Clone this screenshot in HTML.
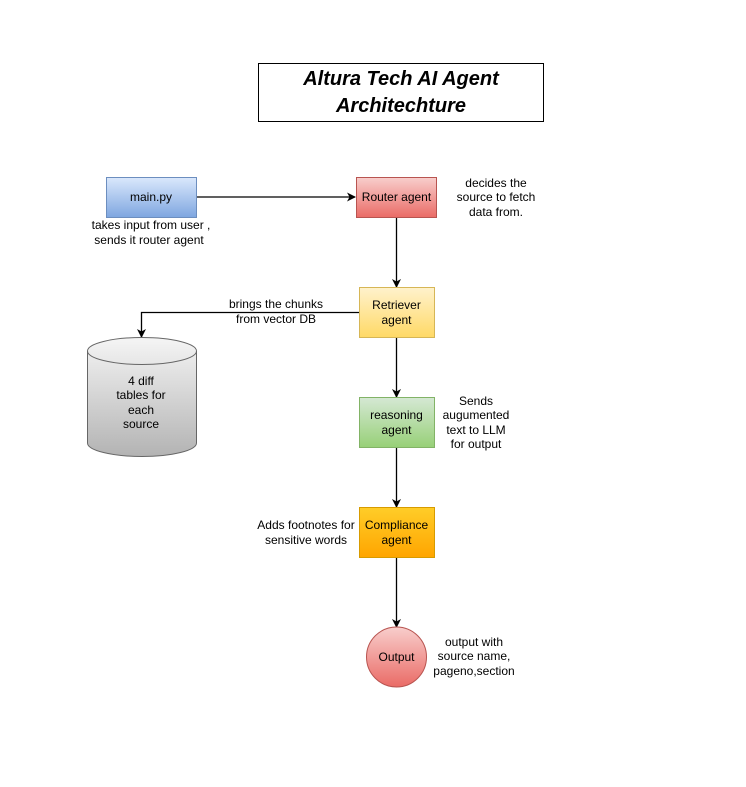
<!DOCTYPE html>
<html><head><style>
body{margin:0;background:#fff;}
svg text{font-family:"Liberation Sans",sans-serif;font-size:12px;fill:#000;}
</style></head><body>
<svg width="746" height="782" xmlns="http://www.w3.org/2000/svg">
<defs>
<linearGradient id="gb" x1="0" y1="0" x2="0" y2="1"><stop offset="0" stop-color="#dae8fc"/><stop offset="1" stop-color="#7ea6e0"/></linearGradient>
<linearGradient id="gr" x1="0" y1="0" x2="0" y2="1"><stop offset="0" stop-color="#f8cecc"/><stop offset="1" stop-color="#ea6b66"/></linearGradient>
<linearGradient id="gy" x1="0" y1="0" x2="0" y2="1"><stop offset="0" stop-color="#fff2cc"/><stop offset="1" stop-color="#ffd966"/></linearGradient>
<linearGradient id="gg" x1="0" y1="0" x2="0" y2="1"><stop offset="0" stop-color="#d5e8d4"/><stop offset="1" stop-color="#97d077"/></linearGradient>
<linearGradient id="go" x1="0" y1="0" x2="0" y2="1"><stop offset="0" stop-color="#ffcd28"/><stop offset="1" stop-color="#ffa500"/></linearGradient>
<linearGradient id="gs" x1="0" y1="0" x2="0" y2="1"><stop offset="0" stop-color="#f5f5f5"/><stop offset="1" stop-color="#b3b3b3"/></linearGradient>
<marker id="a" markerWidth="9" markerHeight="9" refX="8" refY="4.5" orient="auto" markerUnits="userSpaceOnUse"><path d="M0,0 L9,4.5 L0,9 L2.5,4.5 Z" fill="#000"/></marker>
</defs>
<rect x="258.5" y="63.5" width="285" height="58" fill="#fff" stroke="#000"/>
<text x="401" y="85" text-anchor="middle" style="font-size:20px;font-weight:bold;font-style:italic">Altura Tech AI Agent</text>
<text x="401" y="112" text-anchor="middle" style="font-size:20px;font-weight:bold;font-style:italic">Architechture</text>

<g stroke="#000" stroke-width="1.3" fill="none">
<line x1="196" y1="197" x2="355" y2="197" marker-end="url(#a)"/>
<line x1="396.5" y1="217" x2="396.5" y2="287" marker-end="url(#a)"/>
<line x1="396.5" y1="337" x2="396.5" y2="397" marker-end="url(#a)"/>
<line x1="396.5" y1="447" x2="396.5" y2="507" marker-end="url(#a)"/>
<line x1="396.5" y1="557" x2="396.5" y2="627" marker-end="url(#a)"/>
<polyline points="359,312.5 141.5,312.5 141.5,337" marker-end="url(#a)"/>
</g>

<rect x="106.5" y="177.5" width="90" height="40" fill="url(#gb)" stroke="#6c8ebf"/>
<text x="151" y="201" text-anchor="middle">main.py</text>
<text x="151" y="229" text-anchor="middle">takes input from user ,</text>
<text x="149" y="244" text-anchor="middle">sends it router agent</text>

<rect x="356.5" y="177.5" width="80" height="40" fill="url(#gr)" stroke="#b85450"/>
<text x="396.5" y="201" text-anchor="middle">Router agent</text>
<text x="496" y="187" text-anchor="middle">decides the</text>
<text x="496" y="201" text-anchor="middle">source to fetch</text>
<text x="496" y="216" text-anchor="middle">data from.</text>

<rect x="359.5" y="287.5" width="75" height="50" fill="url(#gy)" stroke="#d6b656"/>
<text x="396.5" y="309" text-anchor="middle">Retriever</text>
<text x="396.5" y="324" text-anchor="middle">agent</text>
<text x="276" y="308" text-anchor="middle">brings the chunks</text>
<text x="276" y="323" text-anchor="middle">from vector DB</text>

<path d="M87.5,351 A54.5,13.5 0 0 1 196.5,351 L196.5,443 A54.5,13.5 0 0 1 87.5,443 Z" fill="url(#gs)" stroke="#666"/>
<path d="M87.5,351 A54.5,13.5 0 0 0 196.5,351" fill="none" stroke="#666"/>
<text x="141" y="385" text-anchor="middle">4 diff</text>
<text x="141" y="399" text-anchor="middle">tables for</text>
<text x="141" y="414" text-anchor="middle">each</text>
<text x="141" y="428" text-anchor="middle">source</text>

<rect x="359.5" y="397.5" width="75" height="50" fill="url(#gg)" stroke="#82b366"/>
<text x="396.5" y="419" text-anchor="middle">reasoning</text>
<text x="396.5" y="434" text-anchor="middle">agent</text>
<text x="476" y="405" text-anchor="middle">Sends</text>
<text x="476" y="419" text-anchor="middle">augumented</text>
<text x="476" y="434" text-anchor="middle">text to LLM</text>
<text x="476" y="448" text-anchor="middle">for output</text>

<rect x="359.5" y="507.5" width="75" height="50" fill="url(#go)" stroke="#d79b00"/>
<text x="396.5" y="529" text-anchor="middle">Compliance</text>
<text x="396.5" y="544" text-anchor="middle">agent</text>
<text x="306" y="529" text-anchor="middle">Adds footnotes for</text>
<text x="306" y="544" text-anchor="middle">sensitive words</text>

<circle cx="396.5" cy="657" r="30" fill="url(#gr)" stroke="#b85450"/>
<text x="396.5" y="661" text-anchor="middle">Output</text>
<text x="474" y="646" text-anchor="middle">output with</text>
<text x="474" y="660" text-anchor="middle">source name,</text>
<text x="474" y="675" text-anchor="middle">pageno,section</text>
</svg>
</body></html>
